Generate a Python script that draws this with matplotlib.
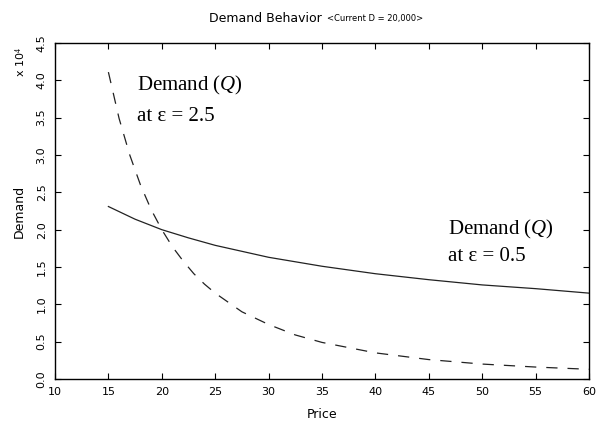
import matplotlib.pyplot as plt

plt.rcParams['mathtext.fontset'] = 'custom'
plt.rcParams['mathtext.it'] = 'Liberation Serif:italic'
plt.rcParams['mathtext.rm'] = 'Liberation Serif'

# values (demand in units of 10^4)
price_low = [15, 17.5, 20, 22.5, 25, 27.5, 30, 35, 40, 45, 50, 55, 60]
demand_low = [2.31, 2.14, 2.00, 1.89, 1.79, 1.71, 1.63, 1.51, 1.41, 1.33, 1.26, 1.21, 1.15]

price_high = [15, 16, 17, 18, 19, 20, 21, 22, 23, 24, 25, 27.5, 30, 32.5, 35, 40, 45, 50, 55, 60]
demand_high = [4.11, 3.49, 3.00, 2.60, 2.27, 2.00, 1.77, 1.58, 1.41, 1.27, 1.15,
               0.90, 0.73, 0.59, 0.49, 0.35, 0.26, 0.20, 0.16, 0.13]

xticks = [10, 15, 20, 25, 30, 35, 40, 45, 50, 55, 60]
yticks = [0.0, 0.5, 1.0, 1.5, 2.0, 2.5, 3.0, 3.5, 4.0, 4.5]

fig = plt.figure(figsize=(6, 4.22), dpi=100)
W, H = 600, 422
ax = fig.add_axes([55 / W, 1 - 379 / H, (589 - 55) / W, (379 - 43) / H])

ax.plot(price_low, demand_low, color='#222222', lw=0.9)
ax.plot(price_high, demand_high, color='#222222', lw=0.9, dashes=(9, 8))

ax.set_xlim(10, 60)
ax.set_ylim(0, 4.5)
ax.set_xticks(xticks)
ax.set_yticks(yticks)
ax.set_xticklabels([str(t) for t in xticks], fontsize=8)
ax.set_yticklabels(['%.1f' % t for t in yticks], fontsize=8, rotation=90, va='center')
ax.tick_params(direction='in', length=4, width=0.8, top=True, right=True, pad=6)
for s in ax.spines.values():
    s.set_linewidth(1.0)

ax.set_xlabel('Price', fontsize=9, labelpad=8)
ax.set_ylabel('Demand', fontsize=9, labelpad=8)

fig.text(21 / W, 1 - 62 / H, r'x 10$^4$', fontsize=8, rotation=90, ha='center', va='center')

# title in two sizes
fig.text(322 / W, 1 - 19 / H, 'Demand Behavior', fontsize=9, ha='right', va='center')
fig.text(327 / W, 1 - 18 / H, '<Current D = 20,000>', fontsize=6, ha='left', va='center')

serif = 'Liberation Serif'
ax.text(17.7, 3.87, 'Demand ($\\mathit{Q}$)', fontsize=15, family=serif, va='baseline')
ax.text(17.7, 3.46, 'at ε = 2.5', fontsize=15, family=serif, va='baseline')
ax.text(46.8, 1.93, 'Demand ($\\mathit{Q}$)', fontsize=15, family=serif, va='baseline')
ax.text(46.8, 1.58, 'at ε = 0.5', fontsize=15, family=serif, va='baseline')

fig.savefig('out.png', dpi=100)
